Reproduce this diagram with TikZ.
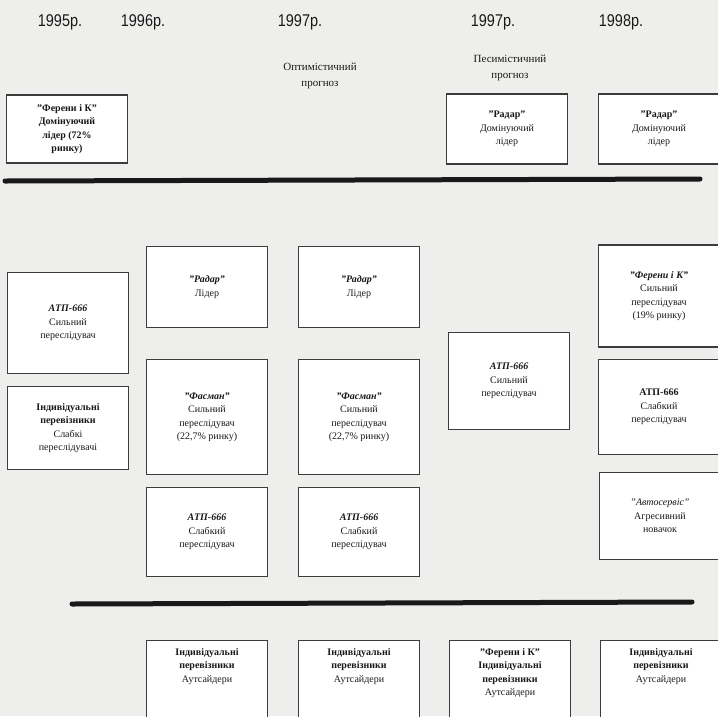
\documentclass[tikz,border=0pt]{standalone}
\usepackage{fontspec}
\usepackage{graphicx}
\setmainfont{Liberation Serif}
\newfontfamily\yearfont{Liberation Sans}
\newcommand{\qq}[1]{\symbol{34}#1\symbol{34}}
\definecolor{paper}{RGB}{238,238,236}
\definecolor{ink}{RGB}{25,25,25}
\begin{document}
\begin{tikzpicture}[x=1pt,y=-1pt,
  bx/.style={draw=ink!85, line width=1.1pt, fill=white, align=center, inner sep=2pt,
    text=ink, font=\fontsize{10}{13.5}\selectfont, minimum width=121, minimum height=#1},
  bx/.default=90,
  openbx/.style={draw=ink!85, line width=1.1pt, fill=white, minimum width=121, minimum height=95, anchor=north},
  intext/.style={align=center, text=ink, font=\fontsize{10}{13.5}\selectfont, anchor=north, inner sep=0pt},
  yr/.style={text=ink, font=\yearfont\fontsize{17}{17}\selectfont, inner sep=0pt},
  fc/.style={align=center, text=ink, font=\fontsize{11}{16}\selectfont, inner sep=0pt},
  sep/.style={line width=5pt, draw=ink, line cap=round}
]
\fill[paper] (0,0) rectangle (718,716);
\useasboundingbox (0,0) rectangle (718,716);
\clip (0,0) rectangle (718,716);

% year labels
\node[yr] (y1) at (60,22) {\scalebox{0.85}[1]{1995р.}};
\node[yr] (y2) at (143,22) {\scalebox{0.85}[1]{1996р.}};
\node[yr] (y3) at (300,22) {\scalebox{0.85}[1]{1997р.}};
\node[yr] (y4) at (493,22) {\scalebox{0.85}[1]{1997р.}};
\node[yr] (y5) at (621,22) {\scalebox{0.85}[1]{1998р.}};

\node[fc] (opt) at (320,76) {Оптимістичний\\прогноз};
\node[fc] (pes) at (510,68) {Песимістичний\\прогноз};

% top row
\node[bx=68] (a1) at (67,129) {\textbf{\qq{Ферени і К}}\\\textbf{Домінуючий}\\\textbf{лідер (72\%}\\\textbf{ринку)}};
\node[bx=70] (d1) at (507,129) {\textbf{\qq{Радар}}\\Домінуючий\\лідер};
\node[bx=70] (e1) at (659,129) {\textbf{\qq{Радар}}\\Домінуючий\\лідер};

\coordinate (l1a) at (5,181);
\coordinate (l1b) at (700,179);
\draw[sep] (l1a) -- (l1b);

% middle section
\node[bx=81] (b2) at (207,287) {\textbf{\textit{\qq{Радар}}}\\Лідер};
\node[bx=81] (c2) at (359,287) {\textbf{\textit{\qq{Радар}}}\\Лідер};
\node[bx=101] (a2) at (68,323) {\textbf{\textit{АТП-666}}\\Сильний\\переслідувач};
\node[bx=83] (a3) at (68,428) {\textbf{Індивідуальні}\\\textbf{перевізники}\\Слабкі\\переслідувачі};
\node[bx=115] (b3) at (207,417) {\textbf{\textit{\qq{Фасман}}}\\Сильний\\переслідувач\\(22,7\% ринку)};
\node[bx=115] (c3) at (359,417) {\textbf{\textit{\qq{Фасман}}}\\Сильний\\переслідувач\\(22,7\% ринку)};
\node[bx=97] (d2) at (509,381) {\textbf{\textit{АТП-666}}\\Сильний\\переслідувач};
\node[bx=102] (e2) at (659,296) {\textbf{\textit{\qq{Ферени і К}}}\\Сильний\\переслідувач\\(19\% ринку)};
\node[bx=95] (e3) at (659,407) {\textbf{АТП-666}\\Слабкий\\переслідувач};
\node[bx=87] (e4) at (660,516) {\textit{\qq{Автосервіс}}\\Агресивний\\новачок};
\node[bx=89] (b4) at (207,532) {\textbf{\textit{АТП-666}}\\Слабкий\\переслідувач};
\node[bx=89] (c4) at (359,532) {\textbf{\textit{АТП-666}}\\Слабкий\\переслідувач};

\coordinate (l2a) at (72,604);
\coordinate (l2b) at (692,602);
\draw[sep] (l2a) -- (l2b);

% bottom row (cut by the page edge)
\node[openbx] (b5) at (207,640) {};
\node[openbx] (c5) at (359,640) {};
\node[openbx] (d5) at (510,640) {};
\node[openbx] (e5) at (661,640) {};
\node[intext] (b5t) at ([yshift=-8]b5.north) {\textbf{Індивідуальні}\\\textbf{перевізники}\\Аутсайдери};
\node[intext] (c5t) at ([yshift=-8]c5.north) {\textbf{Індивідуальні}\\\textbf{перевізники}\\Аутсайдери};
\node[intext] (d5t) at ([yshift=-8]d5.north) {\textbf{\qq{Ферени і К}}\\\textbf{Індивідуальні}\\\textbf{перевізники}\\Аутсайдери};
\node[intext] (e5t) at ([yshift=-8]e5.north) {\textbf{Індивідуальні}\\\textbf{перевізники}\\Аутсайдери};
\end{tikzpicture}
\end{document}
